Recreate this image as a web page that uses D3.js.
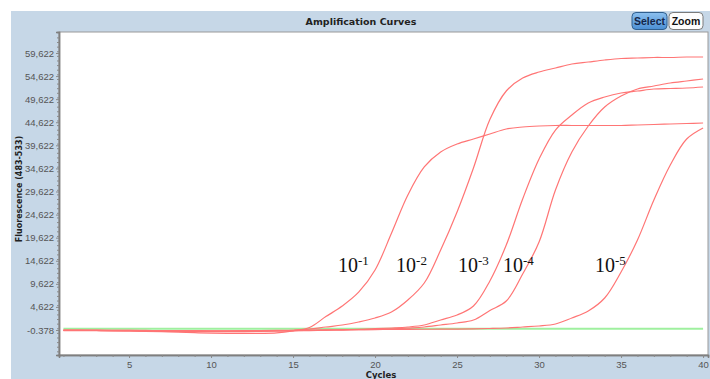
<!DOCTYPE html>
<html>
<head>
<meta charset="utf-8">
<script src="https://cdn.jsdelivr.net/npm/d3@7"></script>
<style>
  html, body { margin: 0; padding: 0; background: #fff; }
  svg { display: block; }
  .tick-label { font-family: 'Liberation Sans Narrow', 'Arial Narrow', 'Liberation Sans', sans-serif; font-size: 9.5px; fill: #555; }
  .axis-title { font-family: 'DejaVu Sans', sans-serif; font-weight: bold; fill: #222; }
  .dilution { font-family: 'Liberation Serif', 'Times New Roman', serif; fill: #111; }
</style>
</head>
<body>
<svg id="chart" width="710" height="379"></svg>
<script>
// cycle numbers 1..40
const cycles = d3.range(1, 41);

// fluorescence per cycle
const curve_1 = [-450, -450, -480, -520, -580, -660, -750, -860, -960, -1050,
  -1100, -1120, -1100, -1000, -550, 160, 2520, 4820, 7810, 12620,
  20570, 28860, 34930, 38180, 39910, 40990, 42080, 43160, 43590, 43810,
  43920, 43920, 43920, 43920, 43920, 44030, 44130, 44240, 44350, 44460];
const curve_2 = [-400, -400, -420, -450, -480, -520, -560, -600, -620, -640,
  -640, -620, -580, -520, -450, -200, 270, 700, 1360, 2220,
  3520, 6120, 9800, 16950, 25180, 34710, 45200, 51390, 54200, 55500,
  56370, 57240, 57670, 58100, 58430, 58540, 58650, 58650, 58750, 58750];
const curve_3 = [-520, -520, -530, -550, -580, -620, -660, -700, -720, -740,
  -740, -720, -680, -620, -560, -500, -430, -350, -250, -100,
  55, 270, 700, 1790, 2870, 4820, 10240, 18030, 28000, 36660,
  42940, 46190, 48790, 50090, 50960, 51390, 51820, 51930, 52040, 52260];
const curve_4 = [-480, -480, -490, -500, -520, -540, -570, -600, -620, -630,
  -630, -610, -580, -540, -500, -450, -400, -350, -300, -250,
  -150, 40, 270, 700, 1140, 1790, 3850, 5900, 11750, 18680,
  29950, 38180, 43810, 47920, 50310, 51820, 52470, 53120, 53560, 53990];
const curve_5 = [-430, -430, -440, -450, -460, -480, -500, -520, -530, -540,
  -540, -530, -510, -480, -440, -400, -360, -330, -300, -280,
  -260, -240, -220, -200, -170, -120, -50, 55, 270, 490,
  920, 2220, 3740, 6550, 12190, 19120, 27780, 35360, 40990, 43380];
const negative_control = cycles.map(() => -120);

const red_series = [curve_1, curve_2, curve_3, curve_4, curve_5];

// dilution labels: exponent, cycle and fluorescence where the text starts
const dilution_exponents = ['-1', '-2', '-3', '-4', '-5'];
const dilution_label_cycles = [17.74, 21.28, 25.06, 27.8, 33.41];
const dilution_label_value = 12200;

const y_ticks = [-378, 4622, 9622, 14622, 19622, 24622, 29622, 34622, 39622, 44622, 49622, 54622, 59622];
const y_tick_labels = ['-0.378', '4,622', '9,622', '14,622', '19,622', '24,622', '29,622',
  '34,622', '39,622', '44,622', '49,622', '54,622', '59,622'];
const x_ticks = [5, 10, 15, 20, 25, 30, 35, 40];

const width = 710;
const height = 379;
const plot_left = 59, plot_top = 32, plot_right = 708, plot_bottom = 355;

const svg = d3.select('#chart');

// panel background
svg.append('rect')
  .attr('x', 11).attr('y', 11)
  .attr('width', width - 11).attr('height', height - 11)
  .attr('fill', '#c6d7e7');

svg.append('text')
  .attr('class', 'axis-title')
  .attr('x', 361).attr('y', 25)
  .attr('text-anchor', 'middle')
  .attr('font-size', '9.5px')
  .text('Amplification Curves');

// Select / Zoom buttons
const defs = svg.append('defs');
const grad = defs.append('linearGradient')
  .attr('id', 'btn-blue').attr('x1', 0).attr('y1', 0).attr('x2', 0).attr('y2', 1);
grad.append('stop').attr('offset', '0%').attr('stop-color', '#8cc0ef');
grad.append('stop').attr('offset', '100%').attr('stop-color', '#4b8fd4');

const buttons = [
  {label: 'Select', x: 632, w: 35, fill: 'url(#btn-blue)', stroke: '#2f5f8f', color: '#14264a'},
  {label: 'Zoom', x: 669, w: 34, fill: '#fdfdfd', stroke: '#7a7a7a', color: '#111'}
];
const btn = svg.selectAll('.btn').data(buttons).enter().append('g').attr('class', 'btn');
btn.append('rect')
  .attr('x', d => d.x).attr('y', 12.5)
  .attr('width', d => d.w).attr('height', 17)
  .attr('rx', 4)
  .attr('fill', d => d.fill)
  .attr('stroke', d => d.stroke);
btn.append('text')
  .attr('x', d => d.x + d.w / 2).attr('y', 25)
  .attr('text-anchor', 'middle')
  .attr('font-family', "'Liberation Sans Narrow', 'Arial Narrow', sans-serif")
  .attr('font-weight', 'bold')
  .attr('font-size', '10.5px')
  .attr('fill', d => d.color)
  .text(d => d.label);

// plot area
svg.append('rect')
  .attr('x', plot_left).attr('y', plot_top)
  .attr('width', plot_right - plot_left).attr('height', plot_bottom - plot_top)
  .attr('fill', '#fff')
  .attr('stroke', '#9a9a9a');

const x = d3.scaleLinear().domain([0.73, 40.3]).range([plot_left, plot_right]);
const y = d3.scaleLinear().domain([-5793, 64169]).range([plot_bottom, plot_top]);

// axes
const y_axis = svg.append('g')
  .attr('transform', `translate(${plot_left},0)`)
  .call(d3.axisLeft(y).tickValues(y_ticks).tickFormat((d, i) => y_tick_labels[i]).tickSize(3).tickPadding(2));
const y_minor = svg.append('g')
  .attr('transform', `translate(${plot_left},0)`)
  .call(d3.axisLeft(y).tickValues(d3.range(-5000, 64000, 1000)).tickFormat('').tickSize(2));
const x_axis = svg.append('g')
  .attr('transform', `translate(0,${plot_bottom})`)
  .call(d3.axisBottom(x).tickValues(x_ticks).tickFormat(d3.format('d')).tickSize(3).tickPadding(3));
const x_minor = svg.append('g')
  .attr('transform', `translate(0,${plot_bottom})`)
  .call(d3.axisBottom(x).tickValues(cycles).tickFormat('').tickSize(2));

[y_axis, y_minor, x_axis, x_minor].forEach(g => {
  g.select('.domain').attr('stroke', '#7f7f7f').attr('stroke-width', 1.5);
  g.selectAll('.tick line').attr('stroke', '#8a8a8a');
  g.selectAll('.tick text').attr('class', 'tick-label');
});

svg.append('text')
  .attr('class', 'axis-title')
  .attr('font-size', '8px')
  .attr('transform', 'translate(22,189) rotate(-90)')
  .attr('text-anchor', 'middle')
  .text('Fluorescence (483-533)');

svg.append('text')
  .attr('class', 'axis-title')
  .attr('font-size', '8.5px')
  .attr('x', 381).attr('y', 378)
  .attr('text-anchor', 'middle')
  .text('Cycles');

// curves
defs.append('clipPath').attr('id', 'plot-clip')
  .append('rect')
  .attr('x', plot_left).attr('y', plot_top)
  .attr('width', plot_right - plot_left).attr('height', plot_bottom - plot_top);

const line = d3.line()
  .x((d, i) => x(cycles[i]))
  .y(d => y(d))
  .curve(d3.curveCatmullRom.alpha(0.5));

const curves = svg.append('g').attr('clip-path', 'url(#plot-clip)');

curves.append('path')
  .datum(negative_control)
  .attr('fill', 'none')
  .attr('stroke', '#9ff09f')
  .attr('stroke-width', 2)
  .attr('d', line);

curves.selectAll('.amp')
  .data(red_series)
  .enter()
  .append('path')
  .attr('class', 'amp')
  .attr('fill', 'none')
  .attr('stroke', '#ff7575')
  .attr('stroke-width', 1.2)
  .attr('d', line);

// dilution labels
const labels = svg.selectAll('.dilution')
  .data(dilution_exponents)
  .enter()
  .append('text')
  .attr('class', 'dilution')
  .attr('x', (d, i) => x(dilution_label_cycles[i]))
  .attr('y', y(dilution_label_value))
  .attr('font-size', '20px');
labels.append('tspan').text('10');
labels.append('tspan')
  .attr('font-size', '13px')
  .attr('dy', -7)
  .text(d => d);
</script>
</body>
</html>
